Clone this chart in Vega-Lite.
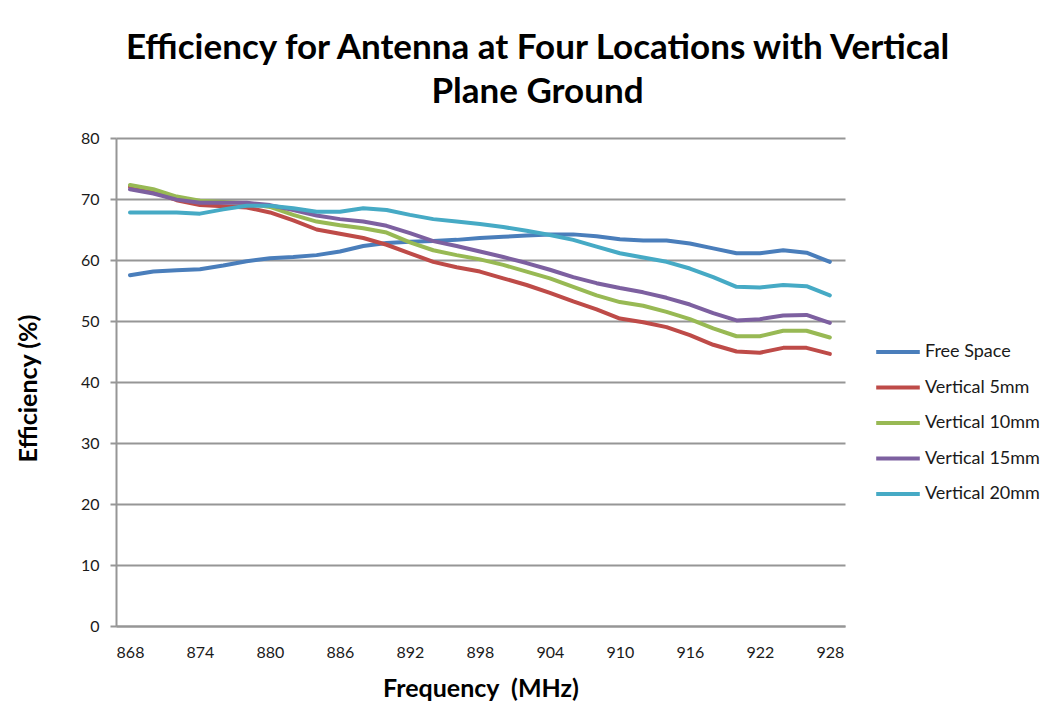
{
  "$schema": "https://vega.github.io/schema/vega-lite/v6.json",
  "width": 729,
  "height": 488,
  "autosize": {"type": "none"},
  "padding": {"left": 116, "top": 138, "right": 209, "bottom": 96},
  "background": "white",
  "title": {
    "text": ["Efficiency for Antenna at Four Locations with Vertical", "Plane Ground"],
    "anchor": "middle",
    "dx": 57,
    "offset": 20,
    "fontSize": 35,
    "lineHeight": 44,
    "font": "Lato",
    "fontWeight": "bold",
    "color": "#000000"
  },
  "config": {
    "view": {"stroke": null},
    "font": "Lato"
  },
  "data": {
    "values": [
      {"freq": 868, "series": "Free Space", "eff": 57.5},
      {"freq": 870, "series": "Free Space", "eff": 58.1},
      {"freq": 872, "series": "Free Space", "eff": 58.3},
      {"freq": 874, "series": "Free Space", "eff": 58.5},
      {"freq": 876, "series": "Free Space", "eff": 59.1},
      {"freq": 878, "series": "Free Space", "eff": 59.8},
      {"freq": 880, "series": "Free Space", "eff": 60.3},
      {"freq": 882, "series": "Free Space", "eff": 60.5},
      {"freq": 884, "series": "Free Space", "eff": 60.8},
      {"freq": 886, "series": "Free Space", "eff": 61.4},
      {"freq": 888, "series": "Free Space", "eff": 62.3},
      {"freq": 890, "series": "Free Space", "eff": 62.8},
      {"freq": 892, "series": "Free Space", "eff": 63.0},
      {"freq": 894, "series": "Free Space", "eff": 63.1},
      {"freq": 896, "series": "Free Space", "eff": 63.3},
      {"freq": 898, "series": "Free Space", "eff": 63.6},
      {"freq": 900, "series": "Free Space", "eff": 63.8},
      {"freq": 902, "series": "Free Space", "eff": 64.0},
      {"freq": 904, "series": "Free Space", "eff": 64.2},
      {"freq": 906, "series": "Free Space", "eff": 64.2},
      {"freq": 908, "series": "Free Space", "eff": 63.9},
      {"freq": 910, "series": "Free Space", "eff": 63.4},
      {"freq": 912, "series": "Free Space", "eff": 63.2},
      {"freq": 914, "series": "Free Space", "eff": 63.2},
      {"freq": 916, "series": "Free Space", "eff": 62.7},
      {"freq": 918, "series": "Free Space", "eff": 61.9},
      {"freq": 920, "series": "Free Space", "eff": 61.1},
      {"freq": 922, "series": "Free Space", "eff": 61.1},
      {"freq": 924, "series": "Free Space", "eff": 61.6},
      {"freq": 926, "series": "Free Space", "eff": 61.2},
      {"freq": 928, "series": "Free Space", "eff": 59.7},

      {"freq": 868, "series": "Vertical 5mm", "eff": 72.0},
      {"freq": 870, "series": "Vertical 5mm", "eff": 71.2},
      {"freq": 872, "series": "Vertical 5mm", "eff": 69.8},
      {"freq": 874, "series": "Vertical 5mm", "eff": 69.0},
      {"freq": 876, "series": "Vertical 5mm", "eff": 68.8},
      {"freq": 878, "series": "Vertical 5mm", "eff": 68.6},
      {"freq": 880, "series": "Vertical 5mm", "eff": 67.8},
      {"freq": 882, "series": "Vertical 5mm", "eff": 66.5},
      {"freq": 884, "series": "Vertical 5mm", "eff": 65.0},
      {"freq": 886, "series": "Vertical 5mm", "eff": 64.3},
      {"freq": 888, "series": "Vertical 5mm", "eff": 63.6},
      {"freq": 890, "series": "Vertical 5mm", "eff": 62.5},
      {"freq": 892, "series": "Vertical 5mm", "eff": 61.1},
      {"freq": 894, "series": "Vertical 5mm", "eff": 59.7},
      {"freq": 896, "series": "Vertical 5mm", "eff": 58.8},
      {"freq": 898, "series": "Vertical 5mm", "eff": 58.1},
      {"freq": 900, "series": "Vertical 5mm", "eff": 57.0},
      {"freq": 902, "series": "Vertical 5mm", "eff": 55.9},
      {"freq": 904, "series": "Vertical 5mm", "eff": 54.6},
      {"freq": 906, "series": "Vertical 5mm", "eff": 53.2},
      {"freq": 908, "series": "Vertical 5mm", "eff": 51.9},
      {"freq": 910, "series": "Vertical 5mm", "eff": 50.4},
      {"freq": 912, "series": "Vertical 5mm", "eff": 49.8},
      {"freq": 914, "series": "Vertical 5mm", "eff": 49.0},
      {"freq": 916, "series": "Vertical 5mm", "eff": 47.7},
      {"freq": 918, "series": "Vertical 5mm", "eff": 46.1},
      {"freq": 920, "series": "Vertical 5mm", "eff": 45.0},
      {"freq": 922, "series": "Vertical 5mm", "eff": 44.8},
      {"freq": 924, "series": "Vertical 5mm", "eff": 45.6},
      {"freq": 926, "series": "Vertical 5mm", "eff": 45.6},
      {"freq": 928, "series": "Vertical 5mm", "eff": 44.6},

      {"freq": 868, "series": "Vertical 10mm", "eff": 72.3},
      {"freq": 870, "series": "Vertical 10mm", "eff": 71.6},
      {"freq": 872, "series": "Vertical 10mm", "eff": 70.4},
      {"freq": 874, "series": "Vertical 10mm", "eff": 69.7},
      {"freq": 876, "series": "Vertical 10mm", "eff": 69.5},
      {"freq": 878, "series": "Vertical 10mm", "eff": 69.3},
      {"freq": 880, "series": "Vertical 10mm", "eff": 68.7},
      {"freq": 882, "series": "Vertical 10mm", "eff": 67.4},
      {"freq": 884, "series": "Vertical 10mm", "eff": 66.3},
      {"freq": 886, "series": "Vertical 10mm", "eff": 65.7},
      {"freq": 888, "series": "Vertical 10mm", "eff": 65.2},
      {"freq": 890, "series": "Vertical 10mm", "eff": 64.5},
      {"freq": 892, "series": "Vertical 10mm", "eff": 62.9},
      {"freq": 894, "series": "Vertical 10mm", "eff": 61.6},
      {"freq": 896, "series": "Vertical 10mm", "eff": 60.8},
      {"freq": 898, "series": "Vertical 10mm", "eff": 60.1},
      {"freq": 900, "series": "Vertical 10mm", "eff": 59.2},
      {"freq": 902, "series": "Vertical 10mm", "eff": 58.1},
      {"freq": 904, "series": "Vertical 10mm", "eff": 57.0},
      {"freq": 906, "series": "Vertical 10mm", "eff": 55.6},
      {"freq": 908, "series": "Vertical 10mm", "eff": 54.2},
      {"freq": 910, "series": "Vertical 10mm", "eff": 53.1},
      {"freq": 912, "series": "Vertical 10mm", "eff": 52.5},
      {"freq": 914, "series": "Vertical 10mm", "eff": 51.5},
      {"freq": 916, "series": "Vertical 10mm", "eff": 50.3},
      {"freq": 918, "series": "Vertical 10mm", "eff": 48.8},
      {"freq": 920, "series": "Vertical 10mm", "eff": 47.5},
      {"freq": 922, "series": "Vertical 10mm", "eff": 47.5},
      {"freq": 924, "series": "Vertical 10mm", "eff": 48.4},
      {"freq": 926, "series": "Vertical 10mm", "eff": 48.4},
      {"freq": 928, "series": "Vertical 10mm", "eff": 47.3},

      {"freq": 868, "series": "Vertical 15mm", "eff": 71.6},
      {"freq": 870, "series": "Vertical 15mm", "eff": 70.9},
      {"freq": 872, "series": "Vertical 15mm", "eff": 69.9},
      {"freq": 874, "series": "Vertical 15mm", "eff": 69.4},
      {"freq": 876, "series": "Vertical 15mm", "eff": 69.4},
      {"freq": 878, "series": "Vertical 15mm", "eff": 69.4},
      {"freq": 880, "series": "Vertical 15mm", "eff": 69.0},
      {"freq": 882, "series": "Vertical 15mm", "eff": 68.2},
      {"freq": 884, "series": "Vertical 15mm", "eff": 67.3},
      {"freq": 886, "series": "Vertical 15mm", "eff": 66.7},
      {"freq": 888, "series": "Vertical 15mm", "eff": 66.3},
      {"freq": 890, "series": "Vertical 15mm", "eff": 65.6},
      {"freq": 892, "series": "Vertical 15mm", "eff": 64.4},
      {"freq": 894, "series": "Vertical 15mm", "eff": 63.1},
      {"freq": 896, "series": "Vertical 15mm", "eff": 62.3},
      {"freq": 898, "series": "Vertical 15mm", "eff": 61.4},
      {"freq": 900, "series": "Vertical 15mm", "eff": 60.5},
      {"freq": 902, "series": "Vertical 15mm", "eff": 59.5},
      {"freq": 904, "series": "Vertical 15mm", "eff": 58.4},
      {"freq": 906, "series": "Vertical 15mm", "eff": 57.2},
      {"freq": 908, "series": "Vertical 15mm", "eff": 56.2},
      {"freq": 910, "series": "Vertical 15mm", "eff": 55.4},
      {"freq": 912, "series": "Vertical 15mm", "eff": 54.7},
      {"freq": 914, "series": "Vertical 15mm", "eff": 53.8},
      {"freq": 916, "series": "Vertical 15mm", "eff": 52.7},
      {"freq": 918, "series": "Vertical 15mm", "eff": 51.3},
      {"freq": 920, "series": "Vertical 15mm", "eff": 50.1},
      {"freq": 922, "series": "Vertical 15mm", "eff": 50.3},
      {"freq": 924, "series": "Vertical 15mm", "eff": 50.9},
      {"freq": 926, "series": "Vertical 15mm", "eff": 51.0},
      {"freq": 928, "series": "Vertical 15mm", "eff": 49.7},

      {"freq": 868, "series": "Vertical 20mm", "eff": 67.8},
      {"freq": 870, "series": "Vertical 20mm", "eff": 67.8},
      {"freq": 872, "series": "Vertical 20mm", "eff": 67.8},
      {"freq": 874, "series": "Vertical 20mm", "eff": 67.6},
      {"freq": 876, "series": "Vertical 20mm", "eff": 68.3},
      {"freq": 878, "series": "Vertical 20mm", "eff": 68.9},
      {"freq": 880, "series": "Vertical 20mm", "eff": 68.9},
      {"freq": 882, "series": "Vertical 20mm", "eff": 68.5},
      {"freq": 884, "series": "Vertical 20mm", "eff": 67.9},
      {"freq": 886, "series": "Vertical 20mm", "eff": 67.9},
      {"freq": 888, "series": "Vertical 20mm", "eff": 68.5},
      {"freq": 890, "series": "Vertical 20mm", "eff": 68.2},
      {"freq": 892, "series": "Vertical 20mm", "eff": 67.4},
      {"freq": 894, "series": "Vertical 20mm", "eff": 66.7},
      {"freq": 896, "series": "Vertical 20mm", "eff": 66.3},
      {"freq": 898, "series": "Vertical 20mm", "eff": 65.9},
      {"freq": 900, "series": "Vertical 20mm", "eff": 65.4},
      {"freq": 902, "series": "Vertical 20mm", "eff": 64.8},
      {"freq": 904, "series": "Vertical 20mm", "eff": 64.1},
      {"freq": 906, "series": "Vertical 20mm", "eff": 63.3},
      {"freq": 908, "series": "Vertical 20mm", "eff": 62.2},
      {"freq": 910, "series": "Vertical 20mm", "eff": 61.1},
      {"freq": 912, "series": "Vertical 20mm", "eff": 60.4},
      {"freq": 914, "series": "Vertical 20mm", "eff": 59.7},
      {"freq": 916, "series": "Vertical 20mm", "eff": 58.6},
      {"freq": 918, "series": "Vertical 20mm", "eff": 57.2},
      {"freq": 920, "series": "Vertical 20mm", "eff": 55.6},
      {"freq": 922, "series": "Vertical 20mm", "eff": 55.5},
      {"freq": 924, "series": "Vertical 20mm", "eff": 55.9},
      {"freq": 926, "series": "Vertical 20mm", "eff": 55.7},
      {"freq": 928, "series": "Vertical 20mm", "eff": 54.2}
    ]
  },
  "mark": {"type": "line", "strokeWidth": 4, "strokeCap": "round", "strokeJoin": "round"},
  "encoding": {
    "x": {
      "field": "freq",
      "type": "quantitative",
      "scale": {"domain": [866.8, 929.3], "nice": false, "zero": false},
      "axis": {
        "values": [868, 874, 880, 886, 892, 898, 904, 910, 916, 922, 928],
        "title": "Frequency\u00a0 (MHz)",
        "titleFont": "Lato",
        "titleFontSize": 25,
        "titleFontWeight": "bold",
        "titleColor": "#000000",
        "titleBaseline": "middle",
        "titleY": 62,
        "grid": false,
        "ticks": false,
        "domainColor": "#969696",
        "domainWidth": 2,
        "labelFontSize": 16,
        "labelFont": "Lato",
        "labelColor": "#1a1a1a",
        "labelPadding": 18,
        "labelFlush": false
      }
    },
    "y": {
      "field": "eff",
      "type": "quantitative",
      "scale": {"domain": [0, 80], "nice": false},
      "axis": {
        "values": [0, 10, 20, 30, 40, 50, 60, 70, 80],
        "title": "Efficiency (%)",
        "titleFont": "Lato",
        "titleFontSize": 25,
        "titleFontWeight": "bold",
        "titleColor": "#000000",
        "titleAngle": -90,
        "titleBaseline": "middle",
        "titleX": -88,
        "titleY": 250,
        "grid": true,
        "gridColor": "#969696",
        "gridWidth": 2,
        "domainColor": "#969696",
        "domainWidth": 2,
        "tickColor": "#969696",
        "tickWidth": 2,
        "tickSize": 6,
        "labelFontSize": 16,
        "labelFont": "Lato",
        "labelColor": "#1a1a1a",
        "labelPadding": 11
      }
    },
    "color": {
      "field": "series",
      "type": "nominal",
      "scale": {
        "domain": ["Free Space", "Vertical 5mm", "Vertical 10mm", "Vertical 15mm", "Vertical 20mm"],
        "range": ["#4A7EBB", "#BE4B48", "#98B954", "#7D60A0", "#46AAC5"]
      },
      "legend": {
        "title": null,
        "orient": "none",
        "legendX": 758,
        "legendY": 190,
        "symbolType": "stroke",
        "symbolSize": 1900,
        "symbolStrokeWidth": 4,
        "labelFontSize": 18,
        "labelFont": "Lato",
        "labelColor": "#1a1a1a",
        "labelOffset": 3,
        "rowPadding": 2.5
      }
    }
  }
}
